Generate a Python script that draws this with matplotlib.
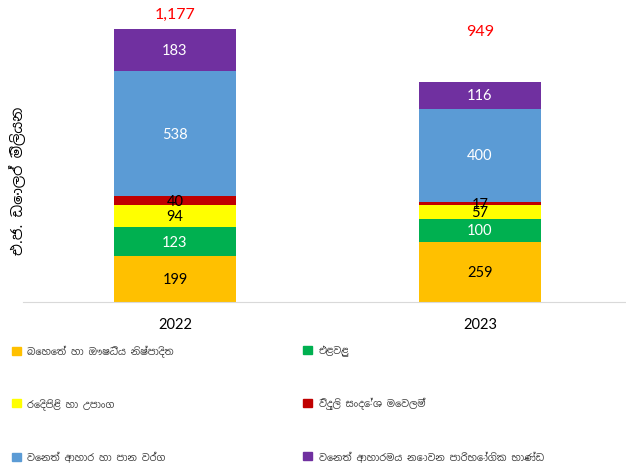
import matplotlib.pyplot as plt
from matplotlib.patches import Patch

YEARS = ["2022", "2023"]
SERIES = [
    "බෙහෙත් හා ඖෂධීය නිෂ්පාදිත",
    "එළවළු",
    "රෙදිපිළි හා උපාංග",
    "විදුලි සංදේශ මෙවලම්",
    "වෙනත් ආහාර හා පාන වර්ග",
    "වෙනත් ආහාරමය නොවන පාරිභෝගික භාණ්ඩ",
]
VALUES = [
    [199, 259],
    [123, 100],
    [94, 57],
    [40, 17],
    [538, 400],
    [183, 116],
]
TOTALS = [1177, 949]
TOTAL_LABEL_Y = [1242, 1170]
COLORS = ["#FFC000", "#00B050", "#FFFF00", "#C00000", "#5B9BD5", "#7030A0"]
TEXT_COLORS = ["black", "white", "black", "black", "white", "white"]
Y_LABEL = "එ.ජ. ඩොලර් මිලියන"

plt.rcParams["font.family"] = ["Lato", "Noto Sans Sinhala", "DejaVu Sans"]

fig = plt.figure(figsize=(6.26, 4.64), dpi=100)
ax = fig.add_axes([0.036, 0.347, 0.974, 0.65])

x = list(range(len(YEARS)))
bottom = [0, 0]
for vals, color, tcolor in zip(VALUES, COLORS, TEXT_COLORS):
    ax.bar(x, vals, width=0.4, bottom=bottom, color=color)
    for i, v in enumerate(vals):
        ax.text(x[i], bottom[i] + v / 2, str(v), ha="center", va="center",
                fontsize=10.5, color=tcolor)
    bottom = [b + v for b, v in zip(bottom, vals)]

for i, (tot, ty) in enumerate(zip(TOTALS, TOTAL_LABEL_Y)):
    ax.text(x[i], ty, f"{tot:,}", ha="center", va="center",
            fontsize=11.5, color="#FF0000")

ax.set_xlim(-0.5, 1.5)
ax.set_ylim(0, 1300)
ax.set_xticks(x)
ax.set_xticklabels(YEARS, fontsize=10.5)
ax.tick_params(axis="x", length=0, pad=11)
ax.set_yticks([])
for side in ["top", "left", "right"]:
    ax.spines[side].set_visible(False)
ax.spines["bottom"].set_color("#D9D9D9")

fig.text(0.03, 0.61, Y_LABEL, rotation=90, ha="center", va="center",
         fontsize=10.5, family=["Noto Sans Sinhala", "DejaVu Sans"])

handles = [Patch(color=c) for c in COLORS]
left_idx = [0, 2, 4]
right_idx = [1, 3, 5]
for idx, xpos in [(left_idx, 0.005), (right_idx, 0.47)]:
    leg = fig.legend([handles[i] for i in idx], [SERIES[i] for i in idx],
                     loc="upper left", bbox_to_anchor=(xpos, 0.274),
                     frameon=False, handlelength=0.9, handleheight=0.9,
                     handletextpad=0.7, labelspacing=4.25,
                     prop={"family": ["Noto Sans Sinhala", "DejaVu Sans"],
                           "size": 7})
    for t in leg.get_texts():
        t.set_color("#404040")

fig.savefig("out.png", dpi=100)
